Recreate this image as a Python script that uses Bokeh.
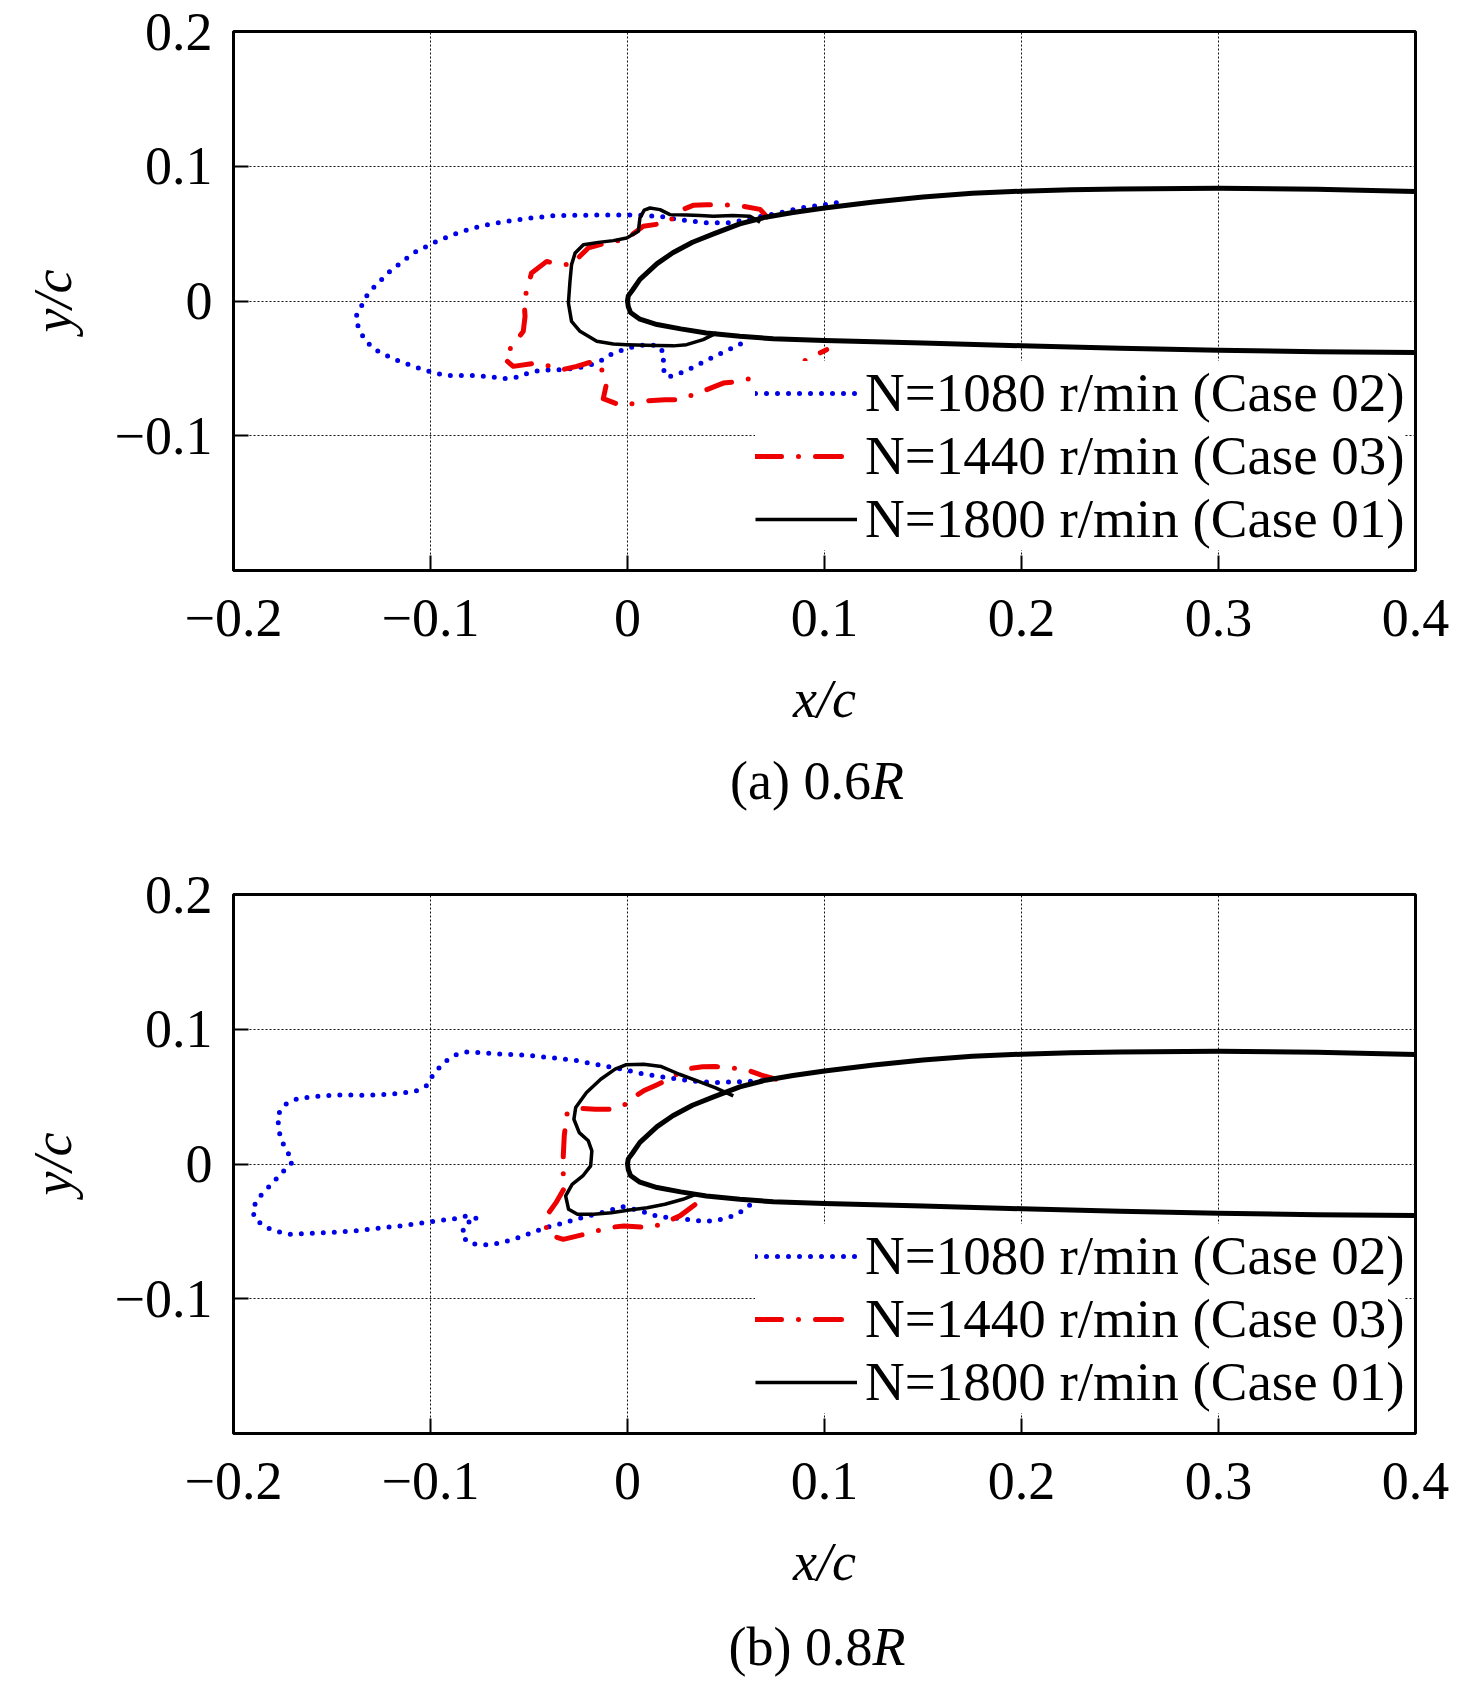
from bokeh.plotting import figure
from bokeh.models import FixedTicker, Legend, LegendItem, Div
from bokeh.layouts import column
from bokeh.embed import file_html
from bokeh.resources import INLINE

# ---------------- data ----------------
X_TICKS = [-0.2, -0.1, 0.0, 0.1, 0.2, 0.3, 0.4]
X_TICK_LABELS = ["\u22120.2", "\u22120.1", "0", "0.1", "0.2", "0.3", "0.4"]
Y_TICKS = [-0.1, 0.0, 0.1, 0.2]
Y_TICK_LABELS = ["\u22120.1", "0", "0.1", "0.2"]

LEGEND_LABELS = ["N=1080 r/min (Case 02)", "N=1440 r/min (Case 03)", "N=1800 r/min (Case 01)"]
CAPTIONS = ["(a) 0.6<i>R</i>", "(b) 0.8<i>R</i>"]

# blade section (same in both panels)
foil_x = [0.4, 0.35, 0.3, 0.25, 0.225, 0.2, 0.175, 0.15, 0.125, 0.1, 0.084, 0.07, 0.057, 0.044,
          0.033, 0.023, 0.015, 0.0063, 0.0025, 0.0004, 0.0, 0.0004, 0.0015, 0.0063, 0.015, 0.027,
          0.040, 0.057, 0.074, 0.1, 0.15, 0.2, 0.25, 0.3, 0.35, 0.4]
foil_y = [0.0813, 0.0830, 0.0836, 0.0831, 0.0825, 0.0815, 0.0800, 0.0772, 0.0735, 0.0690, 0.0657,
          0.0622, 0.0572, 0.0500, 0.0436, 0.0358, 0.0277, 0.0160, 0.0080, 0.0038, 0.0, -0.0042,
          -0.0085, -0.0135, -0.0175, -0.0207, -0.0237, -0.0262, -0.0280, -0.0293, -0.0312,
          -0.0332, -0.0350, -0.0365, -0.0376, -0.0383]

# (a) 0.6R
a1080_x = [0.106, 0.100, 0.088, 0.076, 0.064, 0.052, 0.040, 0.028, 0.0165, 0.005, -0.0131, -0.025,
           -0.0368, -0.0492, -0.0613, -0.0732, -0.085, -0.0969, -0.1087, -0.1206, -0.1316, -0.1378,
           -0.1366, -0.1332, -0.1282, -0.1222, -0.1158, -0.1099, -0.1036, -0.0977, -0.0918, -0.08,
           -0.0681, -0.0622, -0.0563, -0.0503, -0.0444, -0.0326, -0.0207, -0.014, -0.008, -0.0021,
           0.0038, 0.0097, 0.0156, 0.019, 0.0174, 0.0202, 0.0258, 0.0326, 0.0385, 0.0444, 0.0504,
           0.0562, 0.0618]
a1080_y = [0.073, 0.0715, 0.069, 0.065, 0.0616, 0.058, 0.058, 0.060, 0.0628, 0.0638, 0.0638, 0.0636,
           0.0634, 0.0616, 0.0592, 0.056, 0.0512, 0.0443, 0.0356, 0.022, 0.006, -0.0114,
           -0.020, -0.0292, -0.0361, -0.0406, -0.0448, -0.0478, -0.051, -0.0534, -0.0552, -0.0552,
           -0.0564, -0.0576, -0.0566, -0.0534, -0.0515, -0.0509, -0.0485, -0.0448, -0.0393, -0.0361,
           -0.0336, -0.0324, -0.0331, -0.0398, -0.0485, -0.0566, -0.0542, -0.0497, -0.0453, -0.041,
           -0.0368, -0.0329, -0.028]

a1440_x = [0.0707, 0.0673, 0.0587, 0.0487, 0.0402, 0.0333, 0.0282, 0.0245, 0.0199, 0.008, -0.001,
           -0.0106, -0.0199, -0.025, -0.0275, -0.0343, -0.041, -0.0487, -0.0508, -0.0525, -0.052,
           -0.0529, -0.058, -0.063, -0.058, -0.0461, -0.0393, -0.0334, -0.0258, -0.0173, -0.014,
           -0.0106, -0.0123, -0.003, 0.0106, 0.019, 0.0266, 0.0402, 0.0486, 0.0571, 0.0707, 0.0791,
           0.0876, 0.1011]
a1440_y = [0.0625, 0.068, 0.0703, 0.0715, 0.0715, 0.071, 0.068, 0.063, 0.058, 0.0555, 0.0458,
           0.0431, 0.0394, 0.032, 0.027, 0.027, 0.0294, 0.0208, 0.0097, 0.0, -0.0114,
           -0.0225, -0.0324, -0.0423, -0.0485, -0.046, -0.0485, -0.051, -0.0485, -0.0448, -0.0473,
           -0.0609, -0.0725, -0.0777, -0.074, -0.0732, -0.0732, -0.0658, -0.0609, -0.0596, -0.0542,
           -0.0509, -0.046, -0.0361]

a1800_x = [0.0673, 0.0622, 0.0535, 0.0436, 0.0368, 0.030, 0.0216, 0.0165, 0.0114, 0.0085, 0.0063,
           0.0055, -0.0004, -0.0072, -0.0148, -0.0224, -0.0266, -0.0284, -0.0292, -0.030, -0.0284,
           -0.0241, -0.0156, -0.0072, -0.0004, 0.0148, 0.0233, 0.030, 0.0384, 0.0453]
a1800_y = [0.0585, 0.0629, 0.0635, 0.0629, 0.0634, 0.0638, 0.0641, 0.0678, 0.069, 0.0675, 0.0616,
           0.0517, 0.0468, 0.0448, 0.0435, 0.0418, 0.0356, 0.027, 0.0146, -0.0015, -0.0151,
           -0.0225, -0.0299, -0.0319, -0.0324, -0.0331, -0.0333, -0.0324, -0.0287, -0.0237]

# (b) 0.8R
b1080_x = [0.068, 0.0553, 0.0444, 0.0317, 0.0199, 0.0082, -0.0045, -0.0163, -0.0281, -0.0399,
           -0.0517, -0.0638, -0.0758, -0.0819, -0.0879, -0.0937, -0.0988, -0.1021, -0.1079, -0.1197,
           -0.1314, -0.1432, -0.1554, -0.1673, -0.1735, -0.1777, -0.1771, -0.1762, -0.1731, -0.170,
           -0.1753, -0.1813, -0.1867, -0.1904, -0.1891, -0.1831, -0.1771, -0.171, -0.159, -0.1468,
           -0.1351, -0.1233, -0.1111, -0.0992, -0.087, -0.0816, -0.0761, -0.0821, -0.0843, -0.0803,
           -0.0743, -0.0683, -0.0625, -0.0567, -0.0508, -0.0448, -0.0386, -0.0326, -0.0267, -0.0208,
           -0.0145, -0.0085, -0.0027, 0.0036, 0.0091, 0.0154, 0.0208, 0.0272, 0.0332, 0.039, 0.0453,
           0.0513, 0.0571, 0.063]
b1080_y = [0.0617, 0.061, 0.0605, 0.0617, 0.0642, 0.0667, 0.0709, 0.0741, 0.0773, 0.079,
           0.0808, 0.0815, 0.0827, 0.0832, 0.0807, 0.0748, 0.0659, 0.058, 0.0538, 0.0518,
           0.051, 0.0513, 0.0505, 0.0486, 0.0444, 0.0362, 0.0283, 0.0189, 0.0105, 0.0016,
           -0.0064, -0.0158, -0.0242, -0.0331, -0.041, -0.0472, -0.0504, -0.0521, -0.0514, -0.0504,
           -0.0492, -0.0472, -0.0452, -0.0427, -0.0405, -0.0385, -0.0405, -0.044, -0.0529, -0.0588,
           -0.060, -0.0596, -0.0578, -0.0554, -0.0521, -0.0489, -0.0459, -0.044, -0.041, -0.039,
           -0.0365, -0.0343, -0.0316, -0.0336, -0.036, -0.039, -0.0398, -0.0405, -0.0417, -0.0427,
           -0.0417, -0.0398, -0.036, -0.0294]

b1440_x = [0.0753, 0.068, 0.0598, 0.0508, 0.0444, 0.0381, 0.029, 0.0208, 0.0145, 0.0082, 0.0,
           -0.0018, -0.0091, -0.0163, -0.0236, -0.0308, -0.0321, -0.0326, -0.0326, -0.0314, -0.0363,
           -0.0417, -0.0408, -0.0326, -0.0181, -0.010, -0.0018, 0.0118, 0.019, 0.0266, 0.0368,
           0.0402]
b1440_y = [0.063, 0.0659, 0.0703, 0.0716, 0.0723, 0.0721, 0.0703, 0.0629, 0.0585, 0.0543, 0.0469,
           0.0431, 0.0407, 0.0407, 0.0412, 0.037, 0.0209, 0.006, -0.0076, -0.0163, -0.0287,
           -0.0398, -0.0521, -0.0559, -0.0509, -0.0472, -0.046, -0.0472, -0.0435, -0.0385, -0.0274,
           -0.0237]

b1800_x = [0.0537, 0.0444, 0.0354, 0.0263, 0.0172, 0.0082, -0.0009, -0.0063, -0.0136, -0.0208,
           -0.0263, -0.0272, -0.0245, -0.0199, -0.0181, -0.0187, -0.0227, -0.0281, -0.0314, -0.0299,
           -0.0254, -0.0172, -0.0082, 0.0009, 0.010, 0.019, 0.0281, 0.035]
b1800_y = [0.0506, 0.0567, 0.0617, 0.0666, 0.0723, 0.0741, 0.0736, 0.0704, 0.0629, 0.053,
           0.0419, 0.0332, 0.0233, 0.0172, 0.0097, -0.0014, -0.0089, -0.0151, -0.0237, -0.0336,
           -0.0373, -0.0373, -0.0361, -0.0341, -0.0324, -0.0299, -0.0262, -0.0224]

# ---------------- styling ----------------
FONT = "Liberation Serif"
FS = "54px"
BLUE = "#0000e6"
RED = "#ee0000"


def make_panel(bx, by, rx, ry, kx, ky):
    p = figure(width=1468, height=740, x_range=(-0.2, 0.4), y_range=(-0.2, 0.2),
               output_backend="svg", toolbar_location=None,
               min_border_left=233, min_border_right=53, min_border_top=31,
               min_border_bottom=170, background_fill_color="white",
               border_fill_color="white")
    p.outline_line_color = "black"
    p.outline_line_width = 3

    p.xaxis.ticker = FixedTicker(ticks=X_TICKS)
    p.yaxis.ticker = FixedTicker(ticks=Y_TICKS)
    p.xaxis.major_label_overrides = dict(zip(X_TICKS, X_TICK_LABELS))
    p.yaxis.major_label_overrides = dict(zip(Y_TICKS, Y_TICK_LABELS))
    p.xgrid.ticker = FixedTicker(ticks=X_TICKS)
    p.ygrid.ticker = FixedTicker(ticks=Y_TICKS)

    for ax in (p.xaxis[0], p.yaxis[0]):
        ax.axis_line_width = 3
        ax.major_tick_in = 15
        ax.major_tick_out = 0
        ax.major_tick_line_width = 2
        ax.minor_tick_line_color = None
        ax.major_label_text_font = FONT
        ax.major_label_text_font_size = FS
        ax.major_label_text_color = "black"
        ax.axis_label_text_font = FONT
        ax.axis_label_text_font_size = FS
        ax.axis_label_text_font_style = "italic"
        ax.axis_label_text_color = "black"
    p.xaxis.axis_label = "x/c"
    p.yaxis.axis_label = "y/c"
    p.xaxis.major_label_standoff = 29
    p.xaxis.axis_label_standoff = 30
    p.yaxis.major_label_standoff = 21
    p.yaxis.axis_label_standoff = 29

    for g in (p.xgrid[0], p.ygrid[0]):
        g.grid_line_color = "#111111"
        g.grid_line_width = 1
        g.grid_line_dash = "2 2"

    rb = p.line(bx, by, line_color=BLUE, line_width=5, line_dash="0 11",
                line_cap="round", line_join="round")
    rr = p.line(rx, ry, line_color=RED, line_width=5, line_dash="26 17 0 17",
                line_cap="round", line_join="round")
    rk = p.line(kx, ky, line_color="black", line_width=3.5, line_join="round")
    p.line(foil_x, foil_y, line_color="black", line_width=5, line_join="round")

    legend = Legend(items=[LegendItem(label=LEGEND_LABELS[0], renderers=[rb]),
                           LegendItem(label=LEGEND_LABELS[1], renderers=[rr]),
                           LegendItem(label=LEGEND_LABELS[2], renderers=[rk])],
                    location=(522, 20), margin=0, padding=8, spacing=0,
                    glyph_width=102, label_standoff=8,
                    label_text_font=FONT, label_text_font_size="55px",
                    label_text_color="black",
                    border_line_color=None, background_fill_color="white",
                    background_fill_alpha=1.0)
    p.add_layout(legend)
    return p


def make_caption(text, height, top):
    return Div(text=text, width=1182, height=height, margin=(top, 0, 0, 226),
               styles={"font-family": FONT, "font-size": FS, "line-height": "62px",
                       "text-align": "center", "color": "black"})


pa = make_panel(a1080_x, a1080_y, a1440_x, a1440_y, a1800_x, a1800_y)
pb = make_panel(b1080_x, b1080_y, b1440_x, b1440_y, b1800_x, b1800_y)
layout = column(pa, make_caption(CAPTIONS[0], 113, 10), pb, make_caption(CAPTIONS[1], 62, 13))

open("out.html", "w").write(file_html(layout, INLINE))
